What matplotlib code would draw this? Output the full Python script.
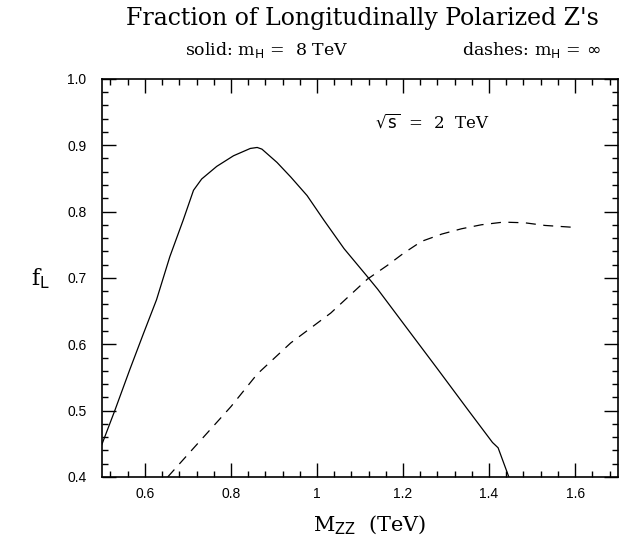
import numpy as np
import matplotlib
matplotlib.use("Agg")
import matplotlib.pyplot as plt
from matplotlib.ticker import MultipleLocator, FixedLocator

# f_L vs M_ZZ
mzz_solid = [0.50, 0.53, 0.565, 0.596, 0.627, 0.658, 0.689, 0.713, 0.732, 0.767,
             0.806, 0.845, 0.861, 0.872, 0.907, 0.939, 0.977, 1.016, 1.063, 1.117,
             1.141, 1.20, 1.28, 1.35, 1.408, 1.421, 1.446]
fl_solid = [0.449, 0.50, 0.562, 0.615, 0.667, 0.732, 0.787, 0.832, 0.849, 0.868,
            0.884, 0.895, 0.8965, 0.894, 0.874, 0.852, 0.824, 0.787, 0.744, 0.702,
            0.683, 0.632, 0.563, 0.502, 0.452, 0.444, 0.40]

mzz_dash = [0.653, 0.70, 0.775, 0.80, 0.861, 0.939, 1.032, 1.117, 1.164, 1.201,
            1.243, 1.29, 1.336, 1.382, 1.433, 1.483, 1.53, 1.60]
fl_dash = [0.40, 0.434, 0.488, 0.506, 0.555, 0.602, 0.647, 0.698, 0.719, 0.737,
           0.755, 0.766, 0.774, 0.780, 0.784, 0.783, 0.779, 0.776]

xticks = [0.6, 0.8, 1.0, 1.2, 1.4, 1.6]
xticklabels = ["0.6", "0.8", "1", "1.2", "1.4", "1.6"]
yticks = [0.4, 0.5, 0.6, 0.7, 0.8, 0.9, 1.0]
yticklabels = ["0.4", "0.5", "0.6", "0.7", "0.8", "0.9", "1.0"]

serif = ["DejaVu Serif"]
sans = ["Liberation Sans", "DejaVu Sans"]

fig = plt.figure(figsize=(6.25, 5.47), dpi=100)
ax = fig.add_axes([0.163, 0.128, 0.826, 0.728])

ax.plot(mzz_solid, fl_solid, color="black", lw=0.9)
ax.plot(mzz_dash, fl_dash, color="black", lw=0.9, dashes=(8, 6))

ax.set_xlim(0.5, 1.7)
ax.set_ylim(0.4, 1.0)

ax.xaxis.set_major_locator(FixedLocator(xticks))
ax.xaxis.set_minor_locator(MultipleLocator(0.04))
ax.yaxis.set_major_locator(FixedLocator(yticks))
ax.yaxis.set_minor_locator(MultipleLocator(0.02))
ax.set_xticklabels(xticklabels, family=sans, fontsize=10)
ax.set_yticklabels(yticklabels, family=sans, fontsize=10)

ax.tick_params(which="both", direction="in", top=True, right=True, width=1.0)
ax.tick_params(which="major", length=10)
ax.tick_params(which="minor", length=4.5)
ax.tick_params(axis="y", which="major", pad=11)
ax.tick_params(axis="x", which="major", pad=7)
for s in ax.spines.values():
    s.set_linewidth(1.2)

ax.text(1.135, 0.935, r"$\sqrt{\mathrm{s}}$  =  2  TeV", family=serif, fontsize=12,
        va="center", ha="left")

fig.text(0.592, 0.04, r"M$_{\mathrm{ZZ}}$  (TeV)", family=serif, fontsize=15,
         ha="center", va="center")
fig.text(0.064, 0.49, r"f$_{\mathrm{L}}$", family=serif, fontsize=16,
         ha="center", va="center")

fig.text(0.58, 0.967, "Fraction of Longitudinally Polarized Z's", family=serif,
         fontsize=17, ha="center", va="center")
fig.text(0.427, 0.909, r"solid: m$_{\mathrm{H}}$ =  8 TeV", family=serif,
         fontsize=12.5, ha="center", va="center")
fig.text(0.85, 0.909, r"dashes: m$_{\mathrm{H}}$ = $\infty$", family=serif,
         fontsize=12.5, ha="center", va="center")

fig.savefig("out.png", dpi=100, facecolor="white")
